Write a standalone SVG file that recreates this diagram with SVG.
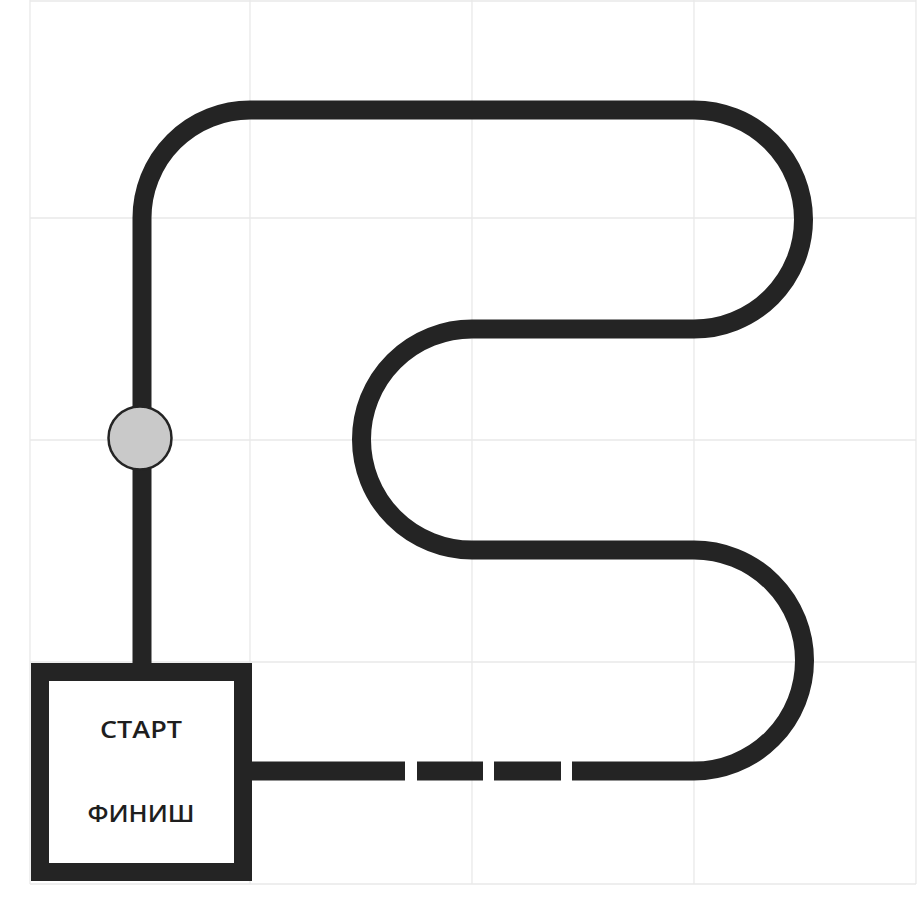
<svg xmlns="http://www.w3.org/2000/svg" width="921" height="899" viewBox="0 0 921 899">
  <style>
    .grid { stroke: #e9e9e9; stroke-width: 1.3; fill: none; }
    .track { stroke: #242424; stroke-width: 19; fill: none; stroke-linecap: butt; }
    .label { font-family: "Open Sans", "Liberation Sans", sans-serif; font-weight: 600; font-size: 24px; fill: #1e1e1e; text-anchor: middle; }
  </style>
  <rect x="0" y="0" width="921" height="899" fill="#ffffff"/>
  <g id="grid">
    <line class="grid" x1="30" y1="0" x2="30" y2="884"/>
    <line class="grid" x1="250" y1="0" x2="250" y2="884"/>
    <line class="grid" x1="472" y1="0" x2="472" y2="884"/>
    <line class="grid" x1="694" y1="0" x2="694" y2="884"/>
    <line class="grid" x1="916" y1="0" x2="916" y2="884"/>
    <line class="grid" x1="30" y1="1" x2="916" y2="1"/>
    <line class="grid" x1="30" y1="218" x2="916" y2="218"/>
    <line class="grid" x1="30" y1="440" x2="916" y2="440"/>
    <line class="grid" x1="30" y1="662" x2="916" y2="662"/>
    <line class="grid" x1="30" y1="884" x2="916" y2="884"/>
  </g>
  <g id="connectors">
    <path class="track" d="M142,664 L142,218 A108,108 0 0 1 250,110 L694,110 A109.5,109.5 0 0 1 694,329 L472,329 A110.5,110.5 0 0 0 472,550 L694,550 A110.5,110.5 0 0 1 694,771 L572,771"/>
    <line class="track" x1="494" y1="771" x2="561" y2="771"/>
    <line class="track" x1="417" y1="771" x2="483" y2="771"/>
    <line class="track" x1="242" y1="771" x2="405" y2="771"/>
  </g>
  <g id="checkpoint">
    <circle cx="140" cy="438" r="31.5" fill="#c9c9c9" stroke="#242424" stroke-width="2.5"/>
  </g>
  <g id="start-finish">
    <rect x="40" y="672" width="203" height="200" fill="#ffffff" stroke="#242424" stroke-width="18"/>
    <text class="label" x="141" y="738" textLength="82" lengthAdjust="spacingAndGlyphs">СТАРТ</text>
    <text class="label" x="141" y="822" textLength="107" lengthAdjust="spacingAndGlyphs">ФИНИШ</text>
  </g>
</svg>
